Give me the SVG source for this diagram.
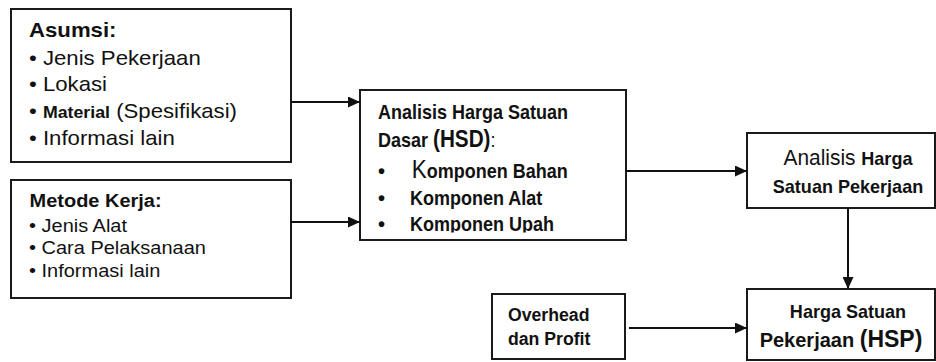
<svg xmlns="http://www.w3.org/2000/svg" width="936" height="362" viewBox="0 0 936 362">
<style>
.box{fill:#fff;stroke:#1a1a1a;stroke-width:2}
text{font-family:"Liberation Sans",Arial,sans-serif;fill:#111}
.b{font-weight:bold}
.con{stroke:#111;stroke-width:2;fill:none}
</style>
<defs>
<marker id="ah" markerUnits="userSpaceOnUse" markerWidth="13" markerHeight="11" refX="12" refY="5.5" orient="auto">
<path d="M0,0 L12,5.5 L0,11 z" fill="#111"/>
</marker>
<clipPath id="hsdclip"><rect x="360" y="90" width="266" height="142.5"/></clipPath>
</defs>
<rect width="936" height="362" fill="#fff"/>

<g id="asumsi">
<rect class="box" x="11" y="9" width="280" height="153"/>
<g transform="matrix(1.11 0 0 1 -3.19 0)">
<text class="b" x="29" y="37" font-size="20">Asumsi:</text>
<text x="29" y="65" font-size="20">• Jenis Pekerjaan</text>
<text x="29" y="91" font-size="20">• Lokasi</text>
<text x="29" y="118" font-size="20">• <tspan class="b" font-size="16">Material</tspan> (Spesifikasi)</text>
<text x="29" y="145" font-size="20">• Informasi lain</text>
</g>
</g>

<g id="metode">
<rect class="box" x="11" y="180" width="280" height="118"/>
<g transform="matrix(1.08 0 0 1 -2.32 0)">
<text class="b" x="29.5" y="207" font-size="18.5">Metode Kerja:</text>
<text x="29" y="232" font-size="18.5">• Jenis Alat</text>
<text x="29" y="254" font-size="18.5">• Cara Pelaksanaan</text>
<text x="29" y="277" font-size="18.5">• Informasi lain</text>
</g>
</g>

<g id="hsd">
<rect class="box" x="360" y="90" width="266" height="150"/>
<g transform="matrix(0.9 0 0 1 37.8 0)">
<text class="b" x="378" y="119" font-size="20">Analisis Harga Satuan</text>
<text class="b" x="378" y="147" font-size="20">Dasar <tspan font-size="23">(HSD)</tspan><tspan font-weight="normal">:</tspan></text>
</g>
<g clip-path="url(#hsdclip)">
<text class="b" x="378" y="178" font-size="20">•</text>
<text class="b" x="378" y="205" font-size="20">•</text>
<text class="b" x="378" y="231" font-size="20">•</text>
<g transform="matrix(0.9 0 0 1 41 0)">
<text class="b" x="412" y="178" font-size="20"><tspan font-size="25" font-weight="normal">K</tspan>omponen Bahan</text>
<text class="b" x="410" y="205" font-size="20">Komponen Alat</text>
<text class="b" x="410" y="231" font-size="20">Komponen Upah</text>
</g>
</g>
</g>

<g id="ahsp">
<rect class="box" x="747" y="133" width="188" height="75"/>
<g transform="matrix(0.95 0 0 1 42.4 0)">
<text x="848" y="165" font-size="22" text-anchor="middle">Analisis <tspan class="b" font-size="19">Harga</tspan></text>
<text class="b" x="848" y="193" font-size="19" text-anchor="middle">Satuan Pekerjaan</text>
</g>
</g>

<g id="overhead">
<rect class="box" x="492" y="294" width="133" height="65"/>
<g transform="matrix(0.93 0 0 1 35.56 0)">
<text class="b" x="508" y="321" font-size="19">Overhead</text>
<text class="b" x="508" y="345" font-size="19">dan Profit</text>
</g>
</g>

<g id="hsp">
<rect class="box" x="747" y="289" width="188" height="71"/>
<g transform="matrix(0.95 0 0 1 42.4 0)">
<text class="b" x="848" y="318" font-size="19" text-anchor="middle">Harga Satuan</text>
</g>
<text class="b" x="841" y="347" font-size="20" text-anchor="middle">Pekerjaan <tspan font-size="23">(HSP)</tspan></text>
</g>

<g id="connectors">
<line class="con" x1="291" y1="102" x2="360" y2="102" marker-end="url(#ah)"/>
<line class="con" x1="290" y1="222" x2="360" y2="222" marker-end="url(#ah)"/>
<line class="con" x1="626" y1="171" x2="747" y2="171" marker-end="url(#ah)"/>
<line class="con" x1="848" y1="208" x2="848" y2="289" marker-end="url(#ah)"/>
<line class="con" x1="629" y1="328" x2="747" y2="328" marker-end="url(#ah)"/>
</g>
</svg>
